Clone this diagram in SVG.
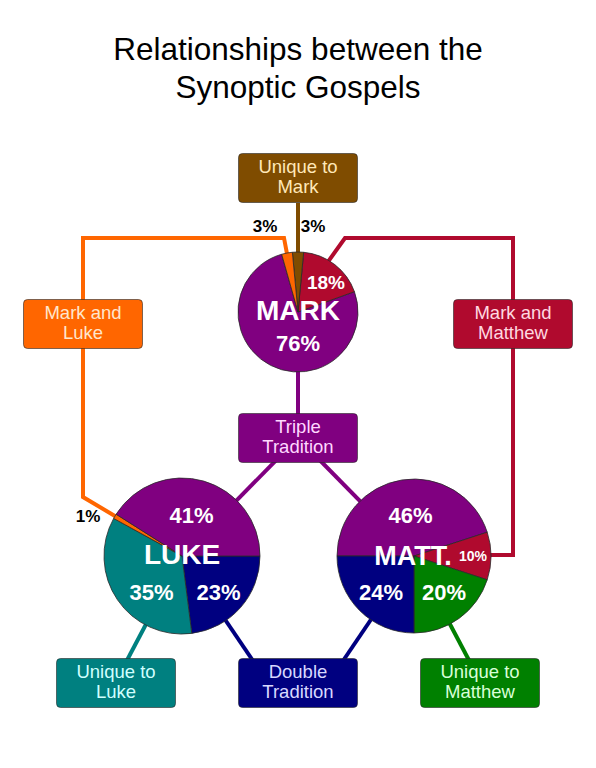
<svg xmlns="http://www.w3.org/2000/svg" width="596" height="768" viewBox="0 0 596 768">
<style>
.title{font-family:"Liberation Sans",Arial,sans-serif;font-size:31.5px;fill:#000;text-anchor:middle}
.bt{font-family:"Liberation Sans",Arial,sans-serif;font-size:18.5px;text-anchor:middle}
.box{stroke:#2a2a2a;stroke-opacity:0.6;stroke-width:1}
.pl{font-family:"Liberation Sans",Arial,sans-serif;font-weight:bold;fill:#fff;text-anchor:middle}
.sm{font-family:"Liberation Sans",Arial,sans-serif;font-weight:bold;fill:#000;text-anchor:middle;font-size:17px}
.sl{stroke:#2a2a2a;stroke-width:0.8;stroke-linejoin:round}
.ln{fill:none;stroke-width:4;stroke-linejoin:miter}
</style>
<rect width="596" height="768" fill="#fff"/>
<text class="title" x="298" y="60">Relationships between the</text>
<text class="title" x="298" y="98">Synoptic Gospels</text>

<g id="connectors">
<line class="ln" x1="298" y1="203" x2="298" y2="312" stroke="#7f4c00" stroke-width="3"/>
<polyline class="ln" points="296,301 284,238 83,238 83,497 182,556" stroke="#ff6600"/>
<polyline class="ln" points="300,301 345,238 513,238 513,555 414,555" stroke="#b00a2e"/>
<line class="ln" x1="298" y1="312" x2="298" y2="438" stroke="#800080"/>
<line class="ln" x1="298" y1="438" x2="182" y2="556" stroke="#800080"/>
<line class="ln" x1="298" y1="438" x2="414" y2="556" stroke="#800080"/>
<line class="ln" x1="182" y1="556" x2="268" y2="683" stroke="#000080"/>
<line class="ln" x1="414" y1="556" x2="328" y2="683" stroke="#000080"/>
<line class="ln" x1="182" y1="556" x2="115" y2="683" stroke="#008080"/>
<line class="ln" x1="414" y1="556" x2="481" y2="683" stroke="#008000"/>
</g>

<g id="mark">
<path class="sl" fill="#800080" d="M298,312 L354.45,291.68 A60,60 0 1 1 281.66,254.27 Z"/>
<path class="sl" fill="#b00a2e" d="M298,312 L303.65,252.27 A60,60 0 0 1 354.45,291.68 Z"/>
<path class="sl" fill="#7f4c00" d="M298,312 L292.35,252.27 A60,60 0 0 1 303.65,252.27 Z"/>
<path class="sl" fill="#ff6600" d="M298,312 L281.66,254.27 A60,60 0 0 1 292.35,252.27 Z"/>
<text class="pl" x="298" y="320" font-size="28">MARK</text>
<text class="pl" x="298" y="351" font-size="22">76%</text>
<text class="pl" x="326" y="289" font-size="19">18%</text>
<text class="sm" x="265" y="232">3%</text>
<text class="sm" x="313" y="232">3%</text>
</g>

<g id="luke">
<path class="sl" fill="#000080" d="M182,556 L260,556 A78,78 0 0 1 191.78,633.39 Z"/>
<path class="sl" fill="#008080" d="M182,556 L191.78,633.39 A78,78 0 0 1 113.65,518.42 Z"/>
<path class="sl" fill="#ff6600" d="M182,556 L113.65,518.42 A78,78 0 0 1 116.14,514.21 Z"/>
<path class="sl" fill="#800080" d="M182,556 L116.14,514.21 A78,78 0 0 1 260,556 Z"/>
<text class="pl" x="182" y="564" font-size="28">LUKE</text>
<text class="pl" x="191.5" y="523" font-size="22">41%</text>
<text class="pl" x="151.5" y="600" font-size="22">35%</text>
<text class="pl" x="218.5" y="600" font-size="22">23%</text>
<text class="sm" x="88" y="522">1%</text>
</g>

<g id="matthew">
<path class="sl" fill="#800080" d="M414,556 L337,556 A77,77 0 0 1 487.23,532.21 Z"/>
<path class="sl" fill="#b00a2e" d="M414,556 L487.23,532.21 A77,77 0 0 1 487.23,579.79 Z"/>
<path class="sl" fill="#008000" d="M414,556 L487.23,579.79 A77,77 0 0 1 414,633 Z"/>
<path class="sl" fill="#000080" d="M414,556 L414,633 A77,77 0 0 1 337,556 Z"/>
<text class="pl" x="413" y="565" font-size="27">MATT.</text>
<text class="pl" x="410.5" y="523" font-size="22">46%</text>
<text class="pl" x="473" y="561" font-size="14">10%</text>
<text class="pl" x="381" y="600" font-size="22">24%</text>
<text class="pl" x="444" y="600" font-size="22">20%</text>
</g>

<g id="unique-mark">
<rect class="box" x="238.5" y="153.5" width="119" height="49" rx="4" fill="#7f4c00"/>
<text class="bt" x="298" y="173" fill="#ffe8b8">Unique to</text>
<text class="bt" x="298" y="193" fill="#ffe8b8">Mark</text>
</g>
<g id="mark-luke">
<rect class="box" x="23.5" y="299.5" width="119" height="49" rx="4" fill="#ff6600"/>
<text class="bt" x="83" y="319" fill="#ffe6cc">Mark and</text>
<text class="bt" x="83" y="339" fill="#ffe6cc">Luke</text>
</g>
<g id="mark-matthew">
<rect class="box" x="453.5" y="299.5" width="119" height="49" rx="4" fill="#b00a2e"/>
<text class="bt" x="513" y="319" fill="#ffd8e0">Mark and</text>
<text class="bt" x="513" y="339" fill="#ffd8e0">Matthew</text>
</g>
<g id="triple">
<rect class="box" x="238.5" y="413.5" width="119" height="49" rx="4" fill="#800080"/>
<text class="bt" x="298" y="433" fill="#ffd8ff">Triple</text>
<text class="bt" x="298" y="453" fill="#ffd8ff">Tradition</text>
</g>
<g id="unique-luke">
<rect class="box" x="56.5" y="658.5" width="119" height="49" rx="4" fill="#008080"/>
<text class="bt" x="116" y="678" fill="#d0ffff">Unique to</text>
<text class="bt" x="116" y="698" fill="#d0ffff">Luke</text>
</g>
<g id="double">
<rect class="box" x="238.5" y="658.5" width="119" height="49" rx="4" fill="#000080"/>
<text class="bt" x="298" y="678" fill="#d8d8ff">Double</text>
<text class="bt" x="298" y="698" fill="#d8d8ff">Tradition</text>
</g>
<g id="unique-matthew">
<rect class="box" x="420.5" y="658.5" width="119" height="49" rx="4" fill="#008000"/>
<text class="bt" x="480" y="678" fill="#d8ffd8">Unique to</text>
<text class="bt" x="480" y="698" fill="#d8ffd8">Matthew</text>
</g>
</svg>
